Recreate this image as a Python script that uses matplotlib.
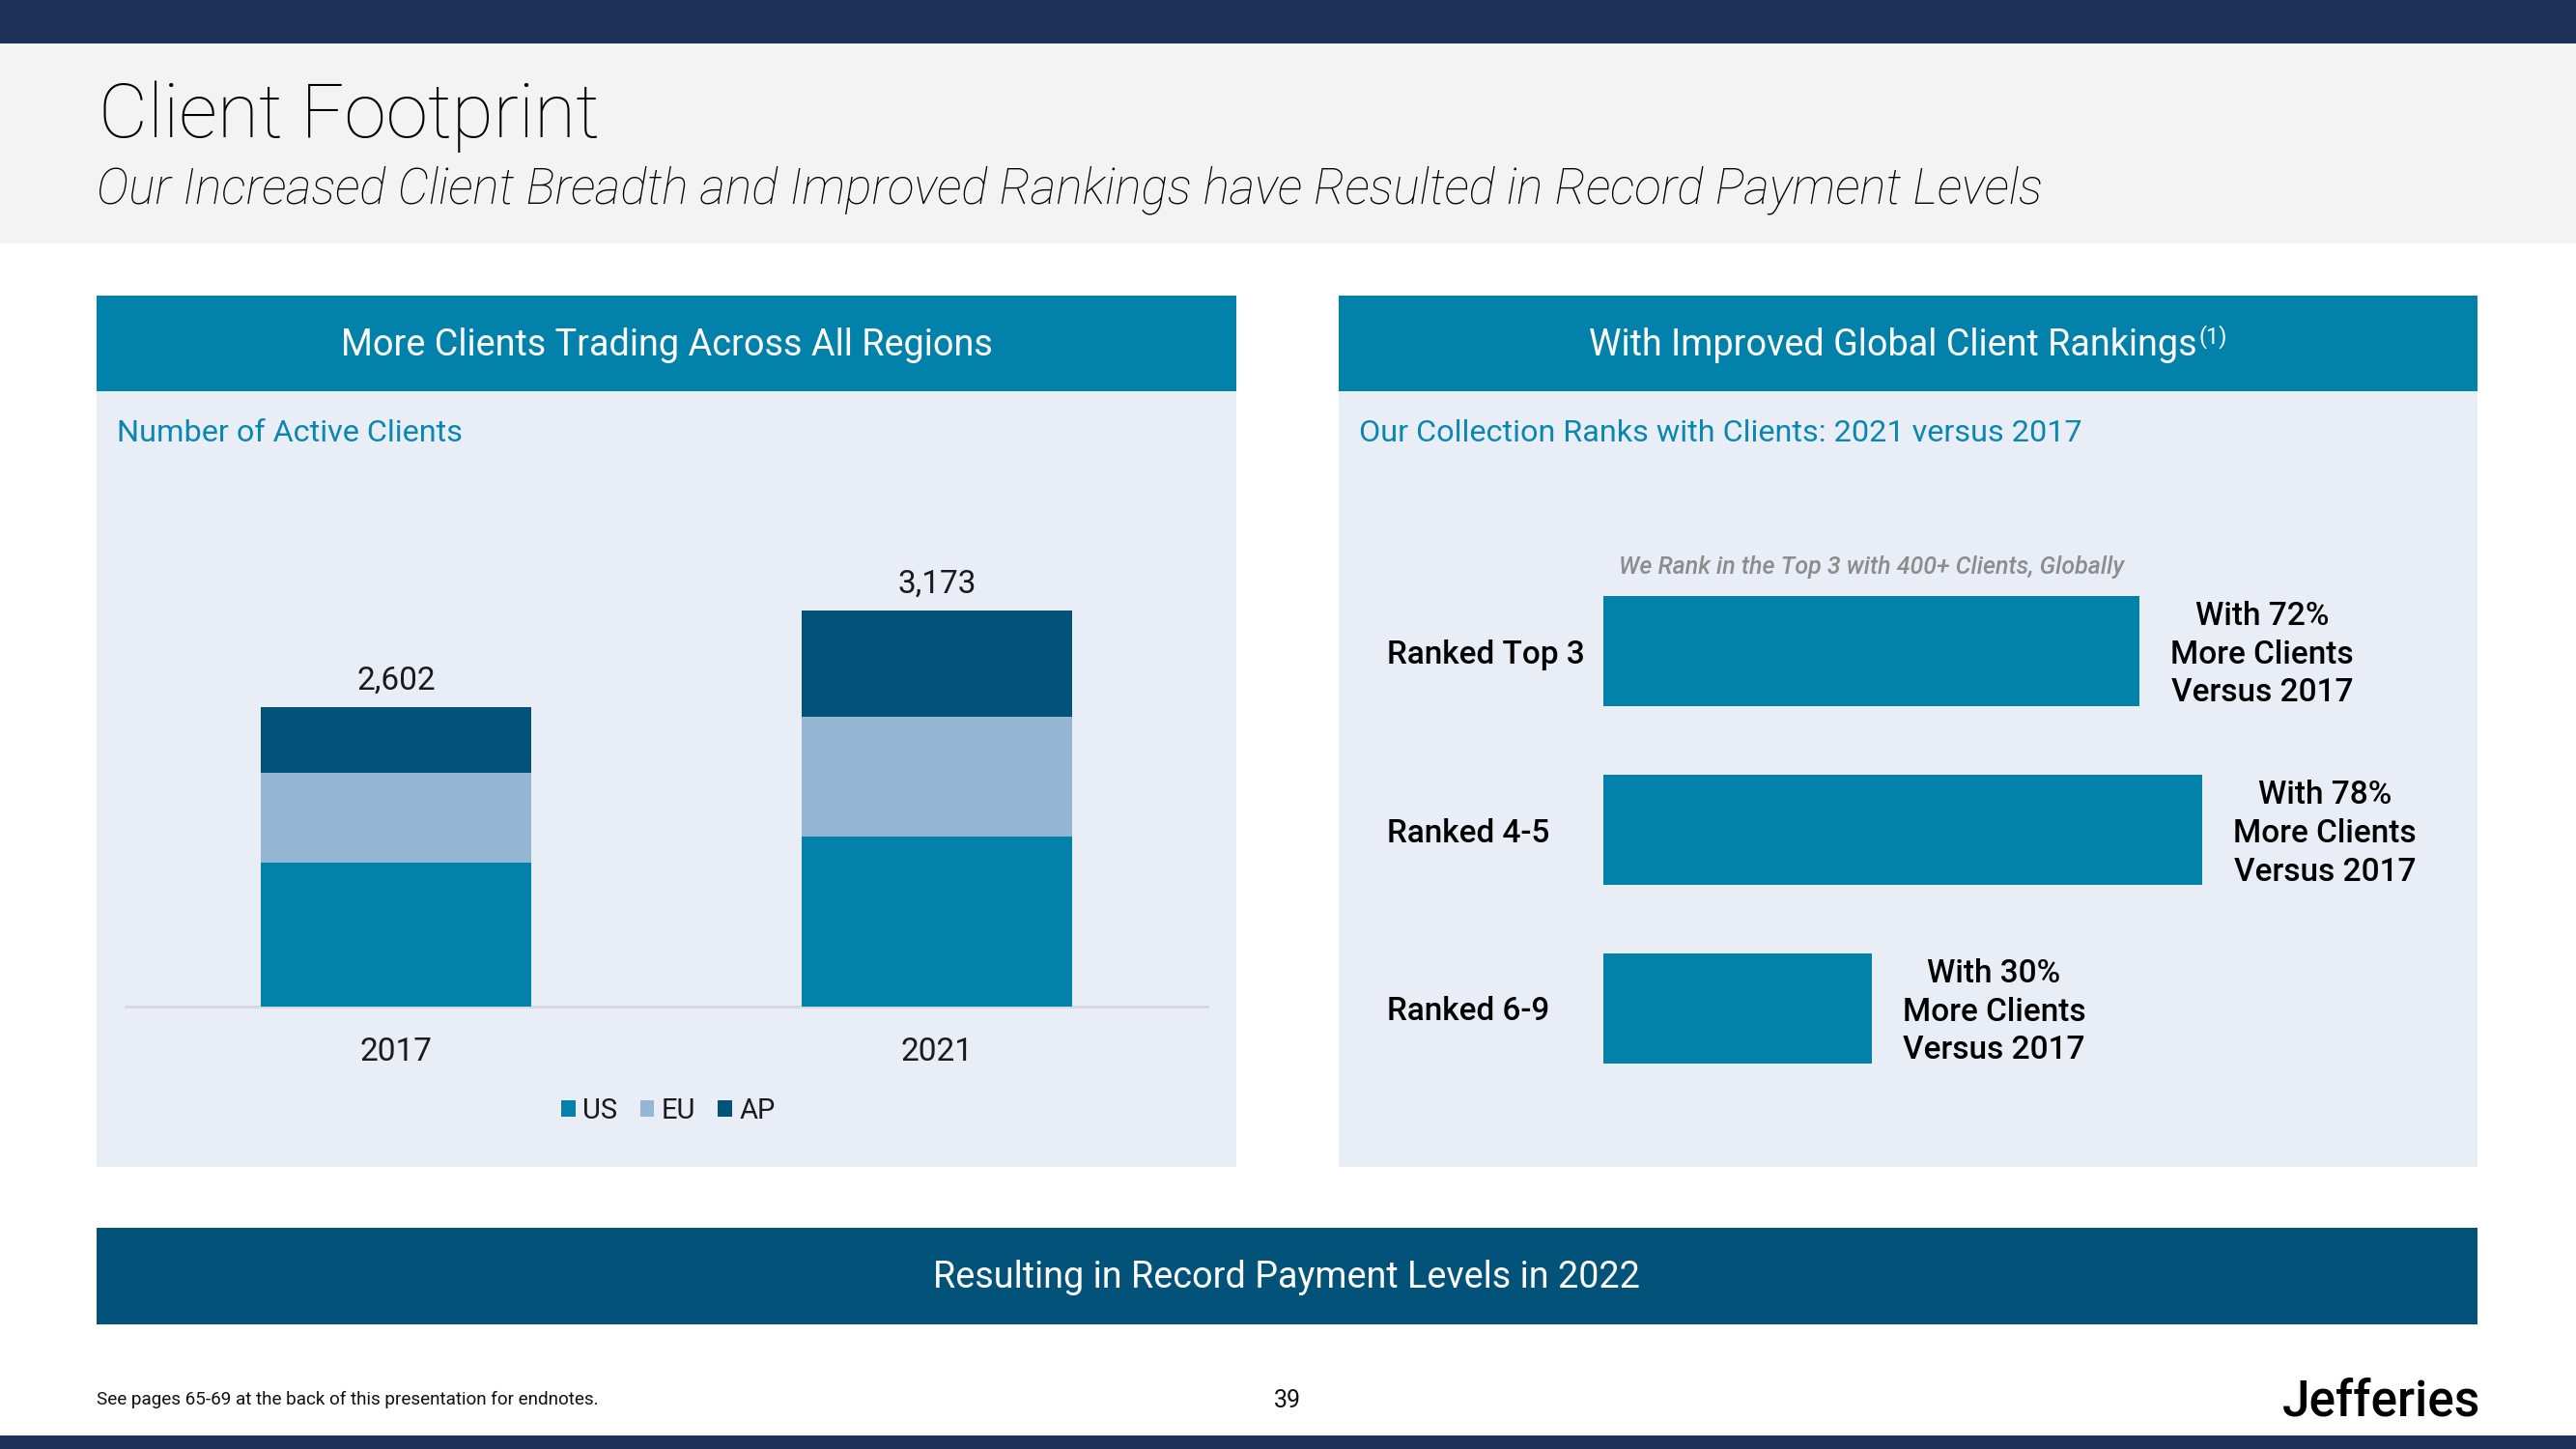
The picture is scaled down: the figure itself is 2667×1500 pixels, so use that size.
import matplotlib
matplotlib.use("Agg")
import matplotlib.pyplot as plt
from matplotlib.patches import Rectangle
import numpy as np

# ---------------- data ----------------
years = ["2017", "2021"]
us_clients = [1680, 1837]
eu_clients = [534, 708]
ap_clients = [388, 628]
region_names = ["US", "EU", "AP"]

rank_labels = ["Ranked Top 3", "Ranked 4-5", "Ranked 6-9"]
rank_values = [400, 447, 200]
rank_growth = [72, 78, 30]

# ---------------- style ----------------
NAVY = "#1c3157"
HEAD_BG = "#f3f3f3"
TEAL = "#0281ab"
PANEL_BG = "#e9eef6"
DARK = "#02527a"
LIGHT = "#95b7d3"
SUB_TEAL = "#0a86b2"
GRAY_IT = "#8c8c8c"
FONT = ["Roboto", "DejaVu Sans"]
plt.rcParams["font.family"] = FONT

W, H = 2667, 1500
fig = plt.figure(figsize=(W / 100, H / 100), dpi=100)
fig.patch.set_facecolor("white")

bg = fig.add_axes([0, 0, 1, 1], zorder=0)
bg.set_xlim(0, W)
bg.set_ylim(H, 0)
bg.axis("off")


def rect(x0, y0, x1, y1, color):
    bg.add_patch(Rectangle((x0, y0), x1 - x0, y1 - y0, color=color, lw=0))


def ax_at(x0, y0, x1, y1, **kw):
    return fig.add_axes([x0 / W, (H - y1) / H, (x1 - x0) / W, (y1 - y0) / H], **kw)


# frame
rect(0, 0, W, 45, NAVY)
rect(0, 45, W, 252, HEAD_BG)
rect(0, 1486, W, H, NAVY)

bg.text(102, 142, "Client Footprint", fontsize=56.5, fontweight="light",
        color="black", va="baseline", ha="left")
bg.text(100, 210, "Our Increased Client Breadth and Improved Rankings have Resulted in Record Payment Levels",
        fontsize=36.9, fontweight="light", fontstyle="italic", color="black",
        va="baseline", ha="left")

# panels
for (x0, x1) in [(100, 1280), (1386, 2565)]:
    rect(x0, 306, x1, 1208, PANEL_BG)
    rect(x0, 306, x1, 405, TEAL)

bg.text(690, 368, "More Clients Trading Across All Regions", fontsize=27.2,
        color="white", ha="center", va="baseline")

renderer = fig.canvas.get_renderer()
t_main = bg.text(0, 368, "With Improved Global Client Rankings", fontsize=27.2,
                 color="white", ha="left", va="baseline")
t_sup = bg.text(0, 355, "(1)", fontsize=17, color="white", ha="left", va="baseline")
w1 = t_main.get_window_extent(renderer).width
w2 = t_sup.get_window_extent(renderer).width
xs = 1975.5 - (w1 + w2 + 2) / 2
t_main.set_x(xs)
t_sup.set_x(xs + w1 + 2)

bg.text(121, 457, "Number of Active Clients", fontsize=23.3, color=SUB_TEAL,
        ha="left", va="baseline")
bg.text(1407, 457, "Our Collection Ranks with Clients: 2021 versus 2017", fontsize=23.3,
        color=SUB_TEAL, ha="left", va="baseline")

# bottom banner
rect(100, 1271, 2565, 1371, DARK)
bg.text(1332, 1333, "Resulting in Record Payment Levels in 2022", fontsize=27.2,
        color="white", ha="center", va="baseline")

# footer
bg.text(100, 1454, "See pages 65-69 at the back of this presentation for endnotes.",
        fontsize=13.6, color="#111111", ha="left", va="baseline")
bg.text(1333, 1457, "39", fontsize=18, color="#111111",
        ha="center", va="baseline")
bg.text(2568, 1465, "Jefferies", fontsize=37, fontweight="medium", color="black",
        ha="right", va="baseline")

# ---------------- left chart: stacked columns ----------------
axL = ax_at(130, 500, 1250, 1042, zorder=2)
axL.patch.set_alpha(0)
x = np.arange(len(years))
bw = 0.5
b1 = axL.bar(x, us_clients, bw, color=TEAL, label=region_names[0], zorder=2)
b2 = axL.bar(x, eu_clients, bw, bottom=us_clients, color=LIGHT, label=region_names[1], zorder=2)
bottom_ap = [u + e for u, e in zip(us_clients, eu_clients)]
b3 = axL.bar(x, ap_clients, bw, bottom=bottom_ap, color=DARK, label=region_names[2], zorder=2)
totals = [u + e + a for u, e, a in zip(us_clients, eu_clients, ap_clients)]
axL.set_xlim(-0.5, 1.5)
axL.set_ylim(832, 3927)
for s in axL.spines.values():
    s.set_visible(False)
axL.axhline(832, color="#d5d9df", lw=2, zorder=1, clip_on=False)
axL.set_xticks([])
axL.set_yticks([])
for i, t in enumerate(totals):
    axL.annotate(f"{t:,}", xy=(x[i], t), xytext=(0, 18.5), textcoords="offset pixels",
                 ha="center", va="baseline", fontsize=24, color="#1a1a1a")
    axL.annotate(years[i], xy=(x[i], 0), xycoords=("data", "axes fraction"),
                 xytext=(0, -56.5), textcoords="offset pixels",
                 ha="center", va="baseline", fontsize=24, color="#1a1a1a")
leg = axL.legend(handles=[b1, b2, b3], loc="center", ncol=3, frameon=False,
                 bbox_to_anchor=(692 / W, (H - 1150) / H), bbox_transform=fig.transFigure,
                 fontsize=21, handlelength=0.5, handleheight=0.55, handletextpad=0.25,
                 columnspacing=0.8)
for txt in leg.get_texts():
    txt.set_color("#1a1a1a")

# ---------------- right chart: horizontal bars ----------------
axR = ax_at(1660, 581.5, 2565, 1136.5, zorder=2)
axR.patch.set_alpha(0)
y = np.arange(len(rank_labels))
bh = 0.616
axR.barh(y, rank_values, bh, color=TEAL, zorder=2)
axR.set_xlim(0, 905 / (555 / rank_values[0]))
axR.set_ylim(len(rank_labels) - 0.5, -0.5)
axR.axis("off")
for i, (lab, v, g) in enumerate(zip(rank_labels, rank_values, rank_growth)):
    axR.annotate(lab, xy=(1436 / W, y[i]), xycoords=("figure fraction", "data"),
                 xytext=(0, -12.5), textcoords="offset pixels",
                 ha="left", va="baseline", fontsize=24, fontweight="medium", color="black")
    lines = [f"With {g}%", "More Clients", "Versus 2017"]
    for j, (ln, dy) in enumerate(zip(lines, [-39.5, 0.5, 40])):
        axR.annotate(ln, xy=(v, y[i]), xytext=(127, -(dy + 12.5)), textcoords="offset pixels",
                     ha="center", va="baseline", fontsize=24, fontweight="medium",
                     color="black")
axR.annotate("We Rank in the Top 3 with 400+ Clients, Globally",
             xy=(rank_values[0] / 2, y[0] - bh / 2), xytext=(0, 23), textcoords="offset pixels",
             ha="center", va="baseline", fontsize=18, fontweight="medium",
             fontstyle="italic", color=GRAY_IT, annotation_clip=False)

fig.savefig("out.png", dpi=100)
